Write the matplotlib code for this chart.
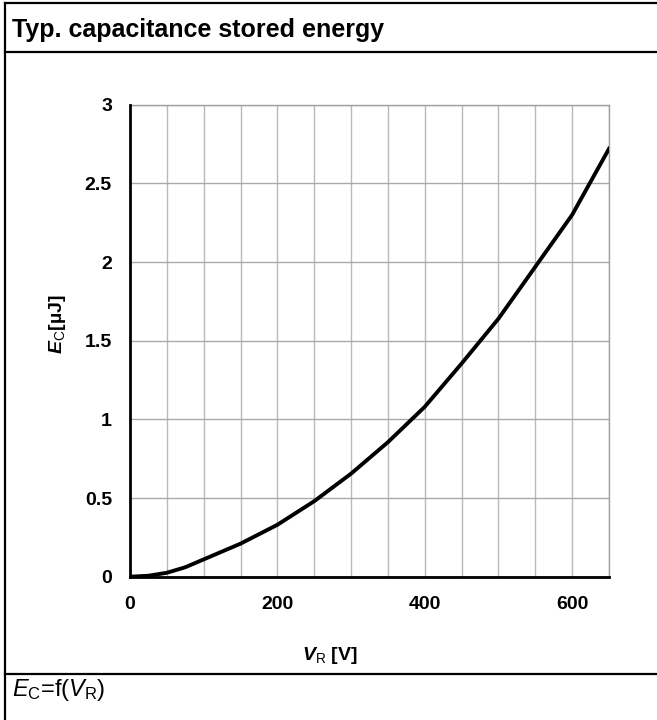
import matplotlib
matplotlib.use("Agg")
import matplotlib.pyplot as plt
from matplotlib.lines import Line2D
import numpy as np

# Data
v_r = [0, 25, 50, 75, 100, 150, 200, 250, 300, 350, 400, 450, 500, 550, 600, 650]
e_c = [0, 0.006, 0.025, 0.06, 0.11, 0.21, 0.33, 0.48, 0.655, 0.855, 1.08, 1.355, 1.64, 1.97, 2.30, 2.72]
x_ticks = [0, 200, 400, 600]
y_ticks = [0, 0.5, 1, 1.5, 2, 2.5, 3]
y_tick_labels = ["0", "0.5", "1", "1.5", "2", "2.5", "3"]

plt.rcParams['font.family'] = ['Liberation Sans', 'DejaVu Sans']
plt.rcParams['mathtext.fontset'] = 'custom'
plt.rcParams['mathtext.rm'] = 'Liberation Sans'
plt.rcParams['mathtext.it'] = 'Liberation Sans:italic'
plt.rcParams['mathtext.bf'] = 'Liberation Sans:bold'
plt.rcParams['mathtext.bfit'] = 'Liberation Sans:bold:italic'

W, H = 657, 720
fig = plt.figure(figsize=(W / 100, H / 100), dpi=100)

def fx(px):
    return px / W

def fy(py):
    return 1 - py / H

# frame lines
lw_frame = 1.6
fig.add_artist(Line2D([fx(5), fx(5)], [fy(2.5), fy(720)], color='black', lw=lw_frame))
fig.add_artist(Line2D([fx(5), fx(657)], [fy(3), fy(3)], color='black', lw=lw_frame))
fig.add_artist(Line2D([fx(5), fx(657)], [fy(51.5), fy(51.5)], color='black', lw=lw_frame))
fig.add_artist(Line2D([fx(5), fx(657)], [fy(673.5), fy(673.5)], color='black', lw=lw_frame))

fig.text(fx(12), fy(37), "Typ. capacitance stored energy", fontsize=18, fontweight='bold',
         ha='left', va='baseline')
fig.text(fx(12), fy(696), r"$\mathit{E}_{\mathrm{C}}$=f($\mathit{V}_{\mathrm{R}}$)", fontsize=17,
         ha='left', va='baseline')

ax_l, ax_r, ax_t, ax_b = 130, 609, 104.7, 576.7
ax = fig.add_axes([fx(ax_l), fy(ax_b), fx(ax_r - ax_l), (ax_b - ax_t) / H])
ax.plot(v_r, e_c, color='black', lw=2.8, solid_joinstyle='round', zorder=3)
ax.set_xlim(0, 650)
ax.set_ylim(0, 3)
ax.set_xticks(x_ticks)
ax.set_xticks(np.arange(0, 651, 50), minor=True)
ax.set_yticks(y_ticks)
ax.set_yticklabels(y_tick_labels)
ax.grid(True, which='both', axis='x', color='#b9b9b9', lw=1.0)
ax.grid(True, which='major', axis='y', color='#a9a9a9', lw=1.0)
ax.tick_params(which='both', length=0)
ax.tick_params(axis='y', pad=13, labelsize=14)
ax.tick_params(axis='x', pad=14, labelsize=14)
for lbl in ax.get_xticklabels() + ax.get_yticklabels():
    lbl.set_fontweight('bold')
for s in ['top', 'right']:
    ax.spines[s].set_color('#a0a0a0')
    ax.spines[s].set_linewidth(1.0)
for s in ['left', 'bottom']:
    ax.spines[s].set_color('black')
    ax.spines[s].set_linewidth(2.0)
    ax.spines[s].set_zorder(4)

fig.text(fx(57), fy(324), r"$\mathbfit{E}_{\mathrm{C}}$[µJ]", fontsize=14, fontweight='bold',
         rotation=90, ha='center', va='center')
fig.text(fx(330), fy(655), r"$\mathbfit{V}_{\mathrm{R}}$ [V]", fontsize=14, fontweight='bold',
         ha='center', va='center')

fig.savefig("out.png", dpi=100)
